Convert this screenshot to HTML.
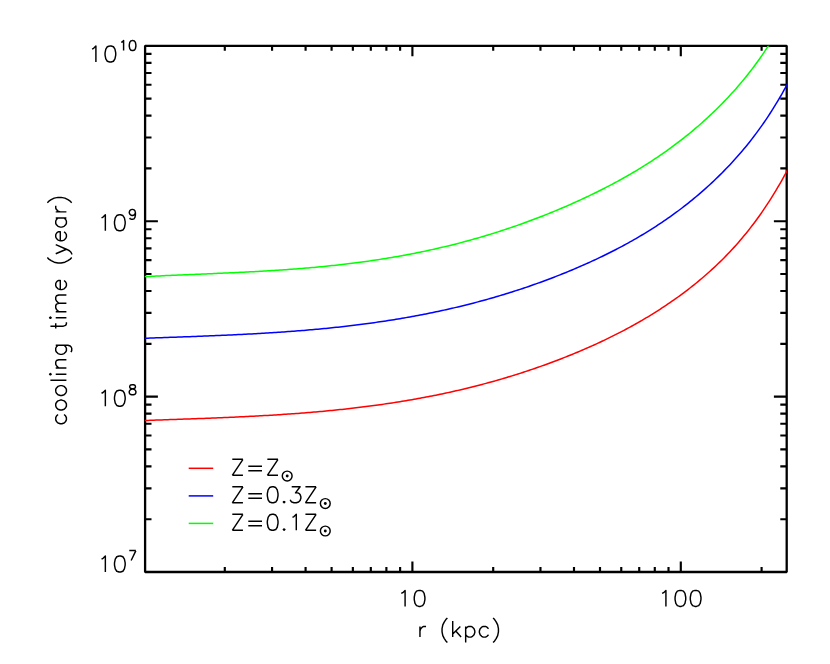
<!DOCTYPE html>
<html><head><meta charset="utf-8"><title>cooling time</title>
<style>html,body{margin:0;padding:0;background:#fff;font-family:"Liberation Sans",sans-serif}svg{display:block}</style></head>
<body>
<svg width="830" height="664" viewBox="0 0 830 664">
<rect width="830" height="664" fill="#fff"/>
<defs><clipPath id="cp"><rect x="144.80" y="45.65" width="642.10" height="526.35"/></clipPath></defs>
<path d="M224.80 572.00 V567.00 M224.80 45.80 V50.80 M272.06 572.00 V567.00 M272.06 45.80 V50.80 M305.59 572.00 V567.00 M305.59 45.80 V50.80 M331.60 572.00 V567.00 M331.60 45.80 V50.80 M352.86 572.00 V567.00 M352.86 45.80 V50.80 M370.82 572.00 V567.00 M370.82 45.80 V50.80 M386.39 572.00 V567.00 M386.39 45.80 V50.80 M400.12 572.00 V567.00 M400.12 45.80 V50.80 M412.40 572.00 V561.50 M412.40 45.80 V56.30 M493.20 572.00 V567.00 M493.20 45.80 V50.80 M540.46 572.00 V567.00 M540.46 45.80 V50.80 M573.99 572.00 V567.00 M573.99 45.80 V50.80 M600.00 572.00 V567.00 M600.00 45.80 V50.80 M621.26 572.00 V567.00 M621.26 45.80 V50.80 M639.22 572.00 V567.00 M639.22 45.80 V50.80 M654.79 572.00 V567.00 M654.79 45.80 V50.80 M668.52 572.00 V567.00 M668.52 45.80 V50.80 M680.80 572.00 V561.50 M680.80 45.80 V56.30 M761.60 572.00 V567.00 M761.60 45.80 V50.80 M145.10 519.20 H151.50 M786.70 519.20 H780.30 M145.10 488.31 H151.50 M786.70 488.31 H780.30 M145.10 466.40 H151.50 M786.70 466.40 H780.30 M145.10 449.40 H151.50 M786.70 449.40 H780.30 M145.10 435.51 H151.50 M786.70 435.51 H780.30 M145.10 423.77 H151.50 M786.70 423.77 H780.30 M145.10 413.60 H151.50 M786.70 413.60 H780.30 M145.10 404.63 H151.50 M786.70 404.63 H780.30 M145.10 396.60 H157.90 M786.70 396.60 H773.90 M145.10 343.80 H151.50 M786.70 343.80 H780.30 M145.10 312.91 H151.50 M786.70 312.91 H780.30 M145.10 291.00 H151.50 M786.70 291.00 H780.30 M145.10 274.00 H151.50 M786.70 274.00 H780.30 M145.10 260.11 H151.50 M786.70 260.11 H780.30 M145.10 248.37 H151.50 M786.70 248.37 H780.30 M145.10 238.20 H151.50 M786.70 238.20 H780.30 M145.10 229.23 H151.50 M786.70 229.23 H780.30 M145.10 221.20 H157.90 M786.70 221.20 H773.90 M145.10 168.40 H151.50 M786.70 168.40 H780.30 M145.10 137.51 H151.50 M786.70 137.51 H780.30 M145.10 115.60 H151.50 M786.70 115.60 H780.30 M145.10 98.60 H151.50 M786.70 98.60 H780.30 M145.10 84.71 H151.50 M786.70 84.71 H780.30 M145.10 72.97 H151.50 M786.70 72.97 H780.30 M145.10 62.80 H151.50 M786.70 62.80 H780.30 M145.10 53.83 H151.50 M786.70 53.83 H780.30" fill="none" stroke="#000" stroke-width="2.15"/>
<rect x="145.10" y="45.80" width="641.60" height="526.20" fill="none" stroke="#000" stroke-width="2.30" stroke-linejoin="bevel"/>
<path clip-path="url(#cp)" d="M140.00 420.68 L142.00 420.60 L144.00 420.53 L146.00 420.46 L148.00 420.39 L150.00 420.31 L152.00 420.24 L154.00 420.17 L156.00 420.10 L158.00 420.03 L160.00 419.96 L162.00 419.89 L164.00 419.82 L166.00 419.75 L168.00 419.68 L170.00 419.61 L172.00 419.54 L174.00 419.47 L176.00 419.40 L178.00 419.33 L180.00 419.26 L182.00 419.19 L184.00 419.12 L186.00 419.05 L188.00 418.97 L190.00 418.90 L192.00 418.83 L194.00 418.76 L196.00 418.68 L198.00 418.61 L200.00 418.54 L202.00 418.46 L204.00 418.38 L206.00 418.31 L208.00 418.23 L210.00 418.15 L212.00 418.07 L214.00 417.99 L216.00 417.91 L218.00 417.83 L220.00 417.75 L222.00 417.67 L224.00 417.58 L226.00 417.50 L228.00 417.41 L230.00 417.32 L232.00 417.23 L234.00 417.14 L236.00 417.05 L238.00 416.96 L240.00 416.86 L242.00 416.77 L244.00 416.67 L246.00 416.57 L248.00 416.47 L250.00 416.37 L252.00 416.27 L254.00 416.16 L256.00 416.06 L258.00 415.95 L260.00 415.84 L262.00 415.73 L264.00 415.61 L266.00 415.50 L268.00 415.38 L270.00 415.26 L272.00 415.14 L274.00 415.02 L276.00 414.89 L278.00 414.77 L280.00 414.64 L282.00 414.51 L284.00 414.37 L286.00 414.24 L288.00 414.10 L290.00 413.96 L292.00 413.82 L294.00 413.67 L296.00 413.52 L298.00 413.38 L300.00 413.22 L302.00 413.07 L304.00 412.91 L306.00 412.75 L308.00 412.59 L310.00 412.42 L312.00 412.26 L314.00 412.09 L316.00 411.91 L318.00 411.74 L320.00 411.56 L322.00 411.38 L324.00 411.19 L326.00 411.01 L328.00 410.82 L330.00 410.62 L332.00 410.43 L334.00 410.23 L336.00 410.02 L338.00 409.82 L340.00 409.61 L342.00 409.40 L344.00 409.18 L346.00 408.96 L348.00 408.74 L350.00 408.52 L352.00 408.29 L354.00 408.05 L356.00 407.82 L358.00 407.58 L360.00 407.34 L362.00 407.09 L364.00 406.84 L366.00 406.59 L368.00 406.33 L370.00 406.07 L372.00 405.80 L374.00 405.53 L376.00 405.26 L378.00 404.99 L380.00 404.71 L382.00 404.42 L384.00 404.13 L386.00 403.84 L388.00 403.55 L390.00 403.25 L392.00 402.94 L394.00 402.63 L396.00 402.32 L398.00 402.00 L400.00 401.68 L402.00 401.36 L404.00 401.03 L406.00 400.69 L408.00 400.35 L410.00 400.01 L412.00 399.66 L414.00 399.31 L416.00 398.96 L418.00 398.60 L420.00 398.23 L422.00 397.86 L424.00 397.48 L426.00 397.11 L428.00 396.72 L430.00 396.33 L432.00 395.94 L434.00 395.54 L436.00 395.14 L438.00 394.73 L440.00 394.31 L442.00 393.90 L444.00 393.47 L446.00 393.04 L448.00 392.61 L450.00 392.17 L452.00 391.73 L454.00 391.28 L456.00 390.83 L458.00 390.37 L460.00 389.90 L462.00 389.43 L464.00 388.96 L466.00 388.48 L468.00 387.99 L470.00 387.50 L472.00 387.00 L474.00 386.50 L476.00 385.99 L478.00 385.48 L480.00 384.96 L482.00 384.43 L484.00 383.90 L486.00 383.37 L488.00 382.83 L490.00 382.28 L492.00 381.73 L494.00 381.17 L496.00 380.60 L498.00 380.03 L500.00 379.45 L502.00 378.87 L504.00 378.28 L506.00 377.69 L508.00 377.08 L510.00 376.48 L512.00 375.86 L514.00 375.24 L516.00 374.62 L518.00 373.99 L520.00 373.35 L522.00 372.70 L524.00 372.05 L526.00 371.40 L528.00 370.73 L530.00 370.06 L532.00 369.39 L534.00 368.70 L536.00 368.01 L538.00 367.32 L540.00 366.61 L542.00 365.90 L544.00 365.19 L546.00 364.47 L548.00 363.74 L550.00 363.00 L552.00 362.26 L554.00 361.51 L556.00 360.75 L558.00 359.99 L560.00 359.22 L562.00 358.44 L564.00 357.65 L566.00 356.86 L568.00 356.06 L570.00 355.26 L572.00 354.44 L574.00 353.62 L576.00 352.79 L578.00 351.95 L580.00 351.11 L582.00 350.26 L584.00 349.40 L586.00 348.53 L588.00 347.65 L590.00 346.77 L592.00 345.87 L594.00 344.97 L596.00 344.06 L598.00 343.14 L600.00 342.21 L602.00 341.27 L604.00 340.32 L606.00 339.37 L608.00 338.40 L610.00 337.42 L612.00 336.44 L614.00 335.44 L616.00 334.44 L618.00 333.42 L620.00 332.39 L622.00 331.35 L624.00 330.30 L626.00 329.24 L628.00 328.17 L630.00 327.09 L632.00 325.99 L634.00 324.88 L636.00 323.76 L638.00 322.63 L640.00 321.48 L642.00 320.33 L644.00 319.16 L646.00 317.97 L648.00 316.77 L650.00 315.56 L652.00 314.33 L654.00 313.09 L656.00 311.84 L658.00 310.57 L660.00 309.28 L662.00 307.98 L664.00 306.67 L666.00 305.33 L668.00 303.98 L670.00 302.62 L672.00 301.24 L674.00 299.84 L676.00 298.42 L678.00 296.99 L680.00 295.53 L682.00 294.06 L684.00 292.57 L686.00 291.06 L688.00 289.54 L690.00 287.99 L692.00 286.42 L694.00 284.82 L696.00 283.21 L698.00 281.57 L700.00 279.91 L702.00 278.23 L704.00 276.52 L706.00 274.79 L708.00 273.03 L710.00 271.24 L712.00 269.43 L714.00 267.59 L716.00 265.71 L718.00 263.81 L720.00 261.88 L722.00 259.91 L724.00 257.91 L726.00 255.88 L728.00 253.81 L730.00 251.70 L732.00 249.56 L734.00 247.38 L736.00 245.16 L738.00 242.90 L740.00 240.59 L742.00 238.25 L744.00 235.85 L746.00 233.42 L748.00 230.93 L750.00 228.40 L752.00 225.81 L754.00 223.18 L756.00 220.49 L758.00 217.75 L760.00 214.95 L762.00 212.09 L764.00 209.18 L766.00 206.20 L768.00 203.16 L770.00 200.06 L772.00 196.89 L774.00 193.66 L776.00 190.35 L778.00 186.98 L780.00 183.53 L782.00 180.01 L784.00 176.41 L786.00 172.74 L788.00 168.98 L790.00 165.14" fill="none" stroke="#ff0000" stroke-width="1.50" stroke-linejoin="round"/>
<path clip-path="url(#cp)" d="M140.00 338.42 L142.00 338.34 L144.00 338.27 L146.00 338.20 L148.00 338.13 L150.00 338.05 L152.00 337.98 L154.00 337.91 L156.00 337.84 L158.00 337.77 L160.00 337.70 L162.00 337.63 L164.00 337.56 L166.00 337.49 L168.00 337.42 L170.00 337.35 L172.00 337.28 L174.00 337.21 L176.00 337.13 L178.00 337.06 L180.00 336.99 L182.00 336.92 L184.00 336.85 L186.00 336.77 L188.00 336.70 L190.00 336.63 L192.00 336.55 L194.00 336.48 L196.00 336.40 L198.00 336.33 L200.00 336.25 L202.00 336.17 L204.00 336.10 L206.00 336.02 L208.00 335.94 L210.00 335.86 L212.00 335.77 L214.00 335.69 L216.00 335.61 L218.00 335.52 L220.00 335.44 L222.00 335.35 L224.00 335.26 L226.00 335.18 L228.00 335.09 L230.00 334.99 L232.00 334.90 L234.00 334.81 L236.00 334.71 L238.00 334.61 L240.00 334.52 L242.00 334.42 L244.00 334.32 L246.00 334.21 L248.00 334.11 L250.00 334.00 L252.00 333.89 L254.00 333.78 L256.00 333.67 L258.00 333.56 L260.00 333.44 L262.00 333.33 L264.00 333.21 L266.00 333.09 L268.00 332.97 L270.00 332.84 L272.00 332.71 L274.00 332.59 L276.00 332.45 L278.00 332.32 L280.00 332.19 L282.00 332.05 L284.00 331.91 L286.00 331.77 L288.00 331.62 L290.00 331.48 L292.00 331.33 L294.00 331.17 L296.00 331.02 L298.00 330.86 L300.00 330.70 L302.00 330.54 L304.00 330.38 L306.00 330.21 L308.00 330.04 L310.00 329.87 L312.00 329.69 L314.00 329.51 L316.00 329.33 L318.00 329.15 L320.00 328.96 L322.00 328.77 L324.00 328.58 L326.00 328.38 L328.00 328.18 L330.00 327.98 L332.00 327.77 L334.00 327.56 L336.00 327.35 L338.00 327.14 L340.00 326.92 L342.00 326.70 L344.00 326.47 L346.00 326.24 L348.00 326.01 L350.00 325.77 L352.00 325.54 L354.00 325.29 L356.00 325.05 L358.00 324.80 L360.00 324.54 L362.00 324.29 L364.00 324.02 L366.00 323.76 L368.00 323.49 L370.00 323.22 L372.00 322.94 L374.00 322.66 L376.00 322.38 L378.00 322.09 L380.00 321.80 L382.00 321.50 L384.00 321.20 L386.00 320.90 L388.00 320.59 L390.00 320.28 L392.00 319.96 L394.00 319.64 L396.00 319.31 L398.00 318.98 L400.00 318.65 L402.00 318.31 L404.00 317.97 L406.00 317.62 L408.00 317.27 L410.00 316.91 L412.00 316.55 L414.00 316.19 L416.00 315.82 L418.00 315.44 L420.00 315.06 L422.00 314.68 L424.00 314.29 L426.00 313.89 L428.00 313.49 L430.00 313.09 L432.00 312.68 L434.00 312.27 L436.00 311.85 L438.00 311.43 L440.00 311.00 L442.00 310.57 L444.00 310.13 L446.00 309.68 L448.00 309.23 L450.00 308.78 L452.00 308.32 L454.00 307.86 L456.00 307.39 L458.00 306.91 L460.00 306.43 L462.00 305.95 L464.00 305.45 L466.00 304.96 L468.00 304.45 L470.00 303.95 L472.00 303.43 L474.00 302.91 L476.00 302.39 L478.00 301.86 L480.00 301.32 L482.00 300.78 L484.00 300.23 L486.00 299.68 L488.00 299.12 L490.00 298.56 L492.00 297.99 L494.00 297.41 L496.00 296.83 L498.00 296.24 L500.00 295.64 L502.00 295.04 L504.00 294.44 L506.00 293.82 L508.00 293.20 L510.00 292.58 L512.00 291.95 L514.00 291.31 L516.00 290.66 L518.00 290.01 L520.00 289.36 L522.00 288.69 L524.00 288.03 L526.00 287.35 L528.00 286.67 L530.00 285.98 L532.00 285.28 L534.00 284.58 L536.00 283.87 L538.00 283.16 L540.00 282.44 L542.00 281.71 L544.00 280.97 L546.00 280.23 L548.00 279.48 L550.00 278.73 L552.00 277.96 L554.00 277.20 L556.00 276.42 L558.00 275.64 L560.00 274.85 L562.00 274.05 L564.00 273.24 L566.00 272.43 L568.00 271.61 L570.00 270.79 L572.00 269.95 L574.00 269.11 L576.00 268.26 L578.00 267.41 L580.00 266.54 L582.00 265.67 L584.00 264.79 L586.00 263.90 L588.00 263.00 L590.00 262.09 L592.00 261.18 L594.00 260.25 L596.00 259.32 L598.00 258.38 L600.00 257.43 L602.00 256.47 L604.00 255.50 L606.00 254.52 L608.00 253.53 L610.00 252.53 L612.00 251.52 L614.00 250.50 L616.00 249.47 L618.00 248.43 L620.00 247.38 L622.00 246.31 L624.00 245.24 L626.00 244.15 L628.00 243.05 L630.00 241.94 L632.00 240.82 L634.00 239.68 L636.00 238.53 L638.00 237.37 L640.00 236.20 L642.00 235.01 L644.00 233.81 L646.00 232.59 L648.00 231.36 L650.00 230.12 L652.00 228.86 L654.00 227.58 L656.00 226.29 L658.00 224.99 L660.00 223.66 L662.00 222.33 L664.00 220.97 L666.00 219.60 L668.00 218.21 L670.00 216.80 L672.00 215.38 L674.00 213.94 L676.00 212.48 L678.00 211.00 L680.00 209.50 L682.00 207.98 L684.00 206.44 L686.00 204.88 L688.00 203.30 L690.00 201.70 L692.00 200.08 L694.00 198.43 L696.00 196.77 L698.00 195.08 L700.00 193.37 L702.00 191.64 L704.00 189.88 L706.00 188.10 L708.00 186.29 L710.00 184.46 L712.00 182.60 L714.00 180.72 L716.00 178.81 L718.00 176.87 L720.00 174.91 L722.00 172.92 L724.00 170.89 L726.00 168.84 L728.00 166.76 L730.00 164.64 L732.00 162.49 L734.00 160.30 L736.00 158.08 L738.00 155.82 L740.00 153.53 L742.00 151.19 L744.00 148.82 L746.00 146.40 L748.00 143.94 L750.00 141.43 L752.00 138.88 L754.00 136.28 L756.00 133.63 L758.00 130.92 L760.00 128.17 L762.00 125.36 L764.00 122.49 L766.00 119.56 L768.00 116.57 L770.00 113.52 L772.00 110.41 L774.00 107.22 L776.00 103.97 L778.00 100.65 L780.00 97.25 L782.00 93.78 L784.00 90.22 L786.00 86.59 L788.00 82.87 L790.00 79.07" fill="none" stroke="#0000ff" stroke-width="1.50" stroke-linejoin="round"/>
<path clip-path="url(#cp)" d="M140.00 276.91 L142.00 276.80 L144.00 276.69 L146.00 276.59 L148.00 276.48 L150.00 276.38 L152.00 276.28 L154.00 276.18 L156.00 276.08 L158.00 275.98 L160.00 275.89 L162.00 275.79 L164.00 275.70 L166.00 275.60 L168.00 275.51 L170.00 275.42 L172.00 275.33 L174.00 275.24 L176.00 275.16 L178.00 275.07 L180.00 274.98 L182.00 274.90 L184.00 274.81 L186.00 274.72 L188.00 274.64 L190.00 274.56 L192.00 274.47 L194.00 274.39 L196.00 274.30 L198.00 274.22 L200.00 274.13 L202.00 274.05 L204.00 273.97 L206.00 273.88 L208.00 273.80 L210.00 273.71 L212.00 273.63 L214.00 273.54 L216.00 273.45 L218.00 273.37 L220.00 273.28 L222.00 273.19 L224.00 273.10 L226.00 273.01 L228.00 272.92 L230.00 272.83 L232.00 272.74 L234.00 272.64 L236.00 272.55 L238.00 272.45 L240.00 272.35 L242.00 272.26 L244.00 272.16 L246.00 272.05 L248.00 271.95 L250.00 271.85 L252.00 271.74 L254.00 271.63 L256.00 271.53 L258.00 271.41 L260.00 271.30 L262.00 271.19 L264.00 271.07 L266.00 270.95 L268.00 270.83 L270.00 270.71 L272.00 270.59 L274.00 270.46 L276.00 270.33 L278.00 270.20 L280.00 270.07 L282.00 269.93 L284.00 269.79 L286.00 269.65 L288.00 269.51 L290.00 269.36 L292.00 269.21 L294.00 269.06 L296.00 268.91 L298.00 268.75 L300.00 268.59 L302.00 268.43 L304.00 268.27 L306.00 268.10 L308.00 267.93 L310.00 267.75 L312.00 267.58 L314.00 267.40 L316.00 267.21 L318.00 267.03 L320.00 266.84 L322.00 266.64 L324.00 266.45 L326.00 266.25 L328.00 266.04 L330.00 265.84 L332.00 265.62 L334.00 265.41 L336.00 265.19 L338.00 264.97 L340.00 264.74 L342.00 264.52 L344.00 264.28 L346.00 264.05 L348.00 263.80 L350.00 263.56 L352.00 263.31 L354.00 263.06 L356.00 262.80 L358.00 262.54 L360.00 262.27 L362.00 262.01 L364.00 261.73 L366.00 261.45 L368.00 261.17 L370.00 260.88 L372.00 260.59 L374.00 260.30 L376.00 260.00 L378.00 259.69 L380.00 259.38 L382.00 259.07 L384.00 258.75 L386.00 258.43 L388.00 258.10 L390.00 257.77 L392.00 257.43 L394.00 257.09 L396.00 256.74 L398.00 256.39 L400.00 256.03 L402.00 255.67 L404.00 255.31 L406.00 254.93 L408.00 254.56 L410.00 254.18 L412.00 253.79 L414.00 253.40 L416.00 253.00 L418.00 252.60 L420.00 252.19 L422.00 251.78 L424.00 251.36 L426.00 250.93 L428.00 250.50 L430.00 250.07 L432.00 249.63 L434.00 249.18 L436.00 248.73 L438.00 248.28 L440.00 247.81 L442.00 247.35 L444.00 246.87 L446.00 246.39 L448.00 245.91 L450.00 245.42 L452.00 244.92 L454.00 244.42 L456.00 243.91 L458.00 243.40 L460.00 242.88 L462.00 242.35 L464.00 241.82 L466.00 241.28 L468.00 240.74 L470.00 240.19 L472.00 239.64 L474.00 239.08 L476.00 238.51 L478.00 237.93 L480.00 237.35 L482.00 236.77 L484.00 236.18 L486.00 235.58 L488.00 234.97 L490.00 234.36 L492.00 233.75 L494.00 233.12 L496.00 232.49 L498.00 231.86 L500.00 231.22 L502.00 230.57 L504.00 229.91 L506.00 229.25 L508.00 228.58 L510.00 227.91 L512.00 227.23 L514.00 226.54 L516.00 225.85 L518.00 225.15 L520.00 224.44 L522.00 223.73 L524.00 223.01 L526.00 222.28 L528.00 221.55 L530.00 220.81 L532.00 220.06 L534.00 219.31 L536.00 218.55 L538.00 217.78 L540.00 217.01 L542.00 216.23 L544.00 215.44 L546.00 214.65 L548.00 213.85 L550.00 213.04 L552.00 212.23 L554.00 211.41 L556.00 210.58 L558.00 209.75 L560.00 208.90 L562.00 208.06 L564.00 207.20 L566.00 206.34 L568.00 205.47 L570.00 204.59 L572.00 203.70 L574.00 202.81 L576.00 201.91 L578.00 201.01 L580.00 200.09 L582.00 199.17 L584.00 198.24 L586.00 197.30 L588.00 196.35 L590.00 195.40 L592.00 194.43 L594.00 193.46 L596.00 192.48 L598.00 191.49 L600.00 190.49 L602.00 189.48 L604.00 188.47 L606.00 187.44 L608.00 186.40 L610.00 185.36 L612.00 184.30 L614.00 183.24 L616.00 182.16 L618.00 181.08 L620.00 179.98 L622.00 178.87 L624.00 177.75 L626.00 176.62 L628.00 175.48 L630.00 174.33 L632.00 173.16 L634.00 171.98 L636.00 170.79 L638.00 169.59 L640.00 168.37 L642.00 167.14 L644.00 165.90 L646.00 164.65 L648.00 163.38 L650.00 162.09 L652.00 160.79 L654.00 159.48 L656.00 158.15 L658.00 156.81 L660.00 155.45 L662.00 154.07 L664.00 152.68 L666.00 151.27 L668.00 149.85 L670.00 148.41 L672.00 146.95 L674.00 145.47 L676.00 143.97 L678.00 142.46 L680.00 140.92 L682.00 139.37 L684.00 137.80 L686.00 136.21 L688.00 134.59 L690.00 132.96 L692.00 131.31 L694.00 129.63 L696.00 127.93 L698.00 126.21 L700.00 124.47 L702.00 122.71 L704.00 120.92 L706.00 119.10 L708.00 117.27 L710.00 115.41 L712.00 113.52 L714.00 111.61 L716.00 109.67 L718.00 107.70 L720.00 105.70 L722.00 103.68 L724.00 101.63 L726.00 99.54 L728.00 97.43 L730.00 95.28 L732.00 93.10 L734.00 90.88 L736.00 88.63 L738.00 86.33 L740.00 84.00 L742.00 81.63 L744.00 79.22 L746.00 76.76 L748.00 74.26 L750.00 71.71 L752.00 69.12 L754.00 66.47 L756.00 63.77 L758.00 61.02 L760.00 58.21 L762.00 55.34 L764.00 52.41 L766.00 49.43 L768.00 46.37 L770.00 43.25 L772.00 40.06 L774.00 36.80 L776.00 33.47 L778.00 30.06 L780.00 26.57 L782.00 22.99 L784.00 19.34 L786.00 15.60 L788.00 11.77 L790.00 7.84" fill="none" stroke="#00ff00" stroke-width="1.50" stroke-linejoin="round"/>
<path d="M188.7 468.30 H213.2" stroke="#ff0000" stroke-width="1.50" fill="none"/>
<path d="M188.7 495.90 H213.2" stroke="#0000ff" stroke-width="1.50" fill="none"/>
<path d="M188.7 523.40 H213.2" stroke="#00ff00" stroke-width="1.50" fill="none"/>
<path d="M92.09 49.05 L93.62 48.28 L95.90 46.00 L95.90 62.00 M109.62 46.00 L107.33 46.76 L105.81 49.05 L105.05 52.86 L105.05 55.14 L105.81 58.95 L107.33 61.24 L109.62 62.00 L111.14 62.00 L113.43 61.24 L114.95 58.95 L115.72 55.14 L115.72 52.86 L114.95 49.05 L113.43 46.76 L111.14 46.00 L109.62 46.00 M121.24 42.47 L122.18 42.00 L123.60 40.58 L123.60 50.50 M132.10 40.58 L130.69 41.05 L129.74 42.47 L129.27 44.83 L129.27 46.25 L129.74 48.61 L130.69 50.03 L132.10 50.50 L133.05 50.50 L134.47 50.03 L135.41 48.61 L135.88 46.25 L135.88 44.83 L135.41 42.47 L134.47 41.05 L133.05 40.58 L132.10 40.58 M101.54 217.85 L103.07 217.08 L105.35 214.80 L105.35 230.80 M119.07 214.80 L116.78 215.56 L115.26 217.85 L114.50 221.66 L114.50 223.94 L115.26 227.75 L116.78 230.04 L119.07 230.80 L120.59 230.80 L122.88 230.04 L124.40 227.75 L125.17 223.94 L125.17 221.66 L124.40 217.85 L122.88 215.56 L120.59 214.80 L119.07 214.80 M135.41 212.69 L134.94 214.10 L133.99 215.05 L132.58 215.52 L132.10 215.52 L130.69 215.05 L129.74 214.10 L129.27 212.69 L129.27 212.21 L129.74 210.80 L130.69 209.85 L132.10 209.38 L132.58 209.38 L133.99 209.85 L134.94 210.80 L135.41 212.69 L135.41 215.05 L134.94 217.41 L133.99 218.83 L132.58 219.30 L131.63 219.30 L130.21 218.83 L129.74 217.88 M101.54 393.25 L103.07 392.48 L105.35 390.20 L105.35 406.20 M119.07 390.20 L116.78 390.96 L115.26 393.25 L114.50 397.06 L114.50 399.34 L115.26 403.15 L116.78 405.44 L119.07 406.20 L120.59 406.20 L122.88 405.44 L124.40 403.15 L125.17 399.34 L125.17 397.06 L124.40 393.25 L122.88 390.96 L120.59 390.20 L119.07 390.20 M131.63 384.78 L130.21 385.25 L129.74 386.20 L129.74 387.14 L130.21 388.09 L131.16 388.56 L133.05 389.03 L134.47 389.50 L135.41 390.45 L135.88 391.39 L135.88 392.81 L135.41 393.76 L134.94 394.23 L133.52 394.70 L131.63 394.70 L130.21 394.23 L129.74 393.76 L129.27 392.81 L129.27 391.39 L129.74 390.45 L130.69 389.50 L132.10 389.03 L133.99 388.56 L134.94 388.09 L135.41 387.14 L135.41 386.20 L134.94 385.25 L133.52 384.78 L131.63 384.78 M101.54 559.05 L103.07 558.28 L105.35 556.00 L105.35 572.00 M119.07 556.00 L116.78 556.76 L115.26 559.05 L114.50 562.86 L114.50 565.14 L115.26 568.95 L116.78 571.24 L119.07 572.00 L120.59 572.00 L122.88 571.24 L124.40 568.95 L125.17 565.14 L125.17 562.86 L124.40 559.05 L122.88 556.76 L120.59 556.00 L119.07 556.00 M135.88 550.58 L131.16 560.50 M129.27 550.58 L135.88 550.58 M401.28 593.45 L402.81 592.68 L405.09 590.40 L405.09 606.40 M418.81 590.40 L416.52 591.16 L415.00 593.45 L414.24 597.26 L414.24 599.54 L415.00 603.35 L416.52 605.64 L418.81 606.40 L420.33 606.40 L422.62 605.64 L424.14 603.35 L424.90 599.54 L424.90 597.26 L424.14 593.45 L422.62 591.16 L420.33 590.40 L418.81 590.40 M662.11 593.45 L663.64 592.68 L665.92 590.40 L665.92 606.40 M679.64 590.40 L677.35 591.16 L675.83 593.45 L675.07 597.26 L675.07 599.54 L675.83 603.35 L677.35 605.64 L679.64 606.40 L681.16 606.40 L683.45 605.64 L684.97 603.35 L685.73 599.54 L685.73 597.26 L684.97 593.45 L683.45 591.16 L681.16 590.40 L679.64 590.40 M694.88 590.40 L692.59 591.16 L691.07 593.45 L690.31 597.26 L690.31 599.54 L691.07 603.35 L692.59 605.64 L694.88 606.40 L696.40 606.40 L698.69 605.64 L700.21 603.35 L700.97 599.54 L700.97 597.26 L700.21 593.45 L698.69 591.16 L696.40 590.40 L694.88 590.40 M419.95 626.43 L419.95 637.10 M419.95 631.00 L420.71 628.72 L422.23 627.19 L423.76 626.43 L426.04 626.43 M447.38 618.05 L445.86 619.57 L444.33 621.86 L442.81 624.91 L442.05 628.72 L442.05 631.77 L442.81 635.58 L444.33 638.62 L445.86 640.91 L447.38 642.43 M452.71 621.10 L452.71 637.10 M460.33 626.43 L452.71 634.05 M455.76 631.00 L461.10 637.10 M465.67 626.43 L465.67 642.43 M465.67 628.72 L467.19 627.19 L468.72 626.43 L471.00 626.43 L472.53 627.19 L474.05 628.72 L474.81 631.00 L474.81 632.53 L474.05 634.81 L472.53 636.34 L471.00 637.10 L468.72 637.10 L467.19 636.34 L465.67 634.81 M488.53 628.72 L487.00 627.19 L485.48 626.43 L483.19 626.43 L481.67 627.19 L480.15 628.72 L479.38 631.00 L479.38 632.53 L480.15 634.81 L481.67 636.34 L483.19 637.10 L485.48 637.10 L487.00 636.34 L488.53 634.81 M493.10 618.05 L494.62 619.57 L496.15 621.86 L497.67 624.91 L498.43 628.72 L498.43 631.77 L497.67 635.58 L496.15 638.62 L494.62 640.91 L493.10 642.43 M58.02 414.57 L56.49 416.09 L55.73 417.62 L55.73 419.90 L56.49 421.43 L58.02 422.95 L60.30 423.71 L61.83 423.71 L64.11 422.95 L65.64 421.43 L66.40 419.90 L66.40 417.62 L65.64 416.09 L64.11 414.57 M55.73 406.19 L56.49 407.71 L58.02 409.24 L60.30 410.00 L61.83 410.00 L64.11 409.24 L65.64 407.71 L66.40 406.19 L66.40 403.90 L65.64 402.38 L64.11 400.85 L61.83 400.09 L60.30 400.09 L58.02 400.85 L56.49 402.38 L55.73 403.90 L55.73 406.19 M55.73 391.71 L56.49 393.23 L58.02 394.76 L60.30 395.52 L61.83 395.52 L64.11 394.76 L65.64 393.23 L66.40 391.71 L66.40 389.42 L65.64 387.90 L64.11 386.38 L61.83 385.61 L60.30 385.61 L58.02 386.38 L56.49 387.90 L55.73 389.42 L55.73 391.71 M50.40 380.28 L66.40 380.28 M50.40 374.95 L51.16 374.18 L50.40 373.42 L49.64 374.18 L50.40 374.95 M55.73 374.18 L66.40 374.18 M55.73 368.09 L66.40 368.09 M58.78 368.09 L56.49 365.80 L55.73 364.28 L55.73 361.99 L56.49 360.47 L58.78 359.71 L66.40 359.71 M55.73 345.23 L67.92 345.23 L70.21 345.99 L70.97 346.75 L71.73 348.28 L71.73 350.56 L70.97 352.09 M58.02 345.23 L56.49 346.75 L55.73 348.28 L55.73 350.56 L56.49 352.09 L58.02 353.61 L60.30 354.37 L61.83 354.37 L64.11 353.61 L65.64 352.09 L66.40 350.56 L66.40 348.28 L65.64 346.75 L64.11 345.23 M50.40 326.18 L63.35 326.18 L65.64 325.42 L66.40 323.89 L66.40 322.37 M55.73 328.46 L55.73 323.13 M50.40 318.56 L51.16 317.80 L50.40 317.03 L49.64 317.80 L50.40 318.56 M55.73 317.80 L66.40 317.80 M55.73 311.70 L66.40 311.70 M58.78 311.70 L56.49 309.41 L55.73 307.89 L55.73 305.60 L56.49 304.08 L58.78 303.32 L66.40 303.32 M58.78 303.32 L56.49 301.03 L55.73 299.51 L55.73 297.22 L56.49 295.70 L58.78 294.94 L66.40 294.94 M60.30 289.60 L60.30 280.46 L58.78 280.46 L57.26 281.22 L56.49 281.98 L55.73 283.51 L55.73 285.79 L56.49 287.32 L58.02 288.84 L60.30 289.60 L61.83 289.60 L64.11 288.84 L65.64 287.32 L66.40 285.79 L66.40 283.51 L65.64 281.98 L64.11 280.46 M47.35 257.60 L48.87 259.12 L51.16 260.65 L54.21 262.17 L58.02 262.93 L61.07 262.93 L64.88 262.17 L67.92 260.65 L70.21 259.12 L71.73 257.60 M55.73 253.79 L66.40 249.22 M55.73 244.64 L66.40 249.22 L69.45 250.74 L70.97 252.26 L71.73 253.79 L71.73 254.55 M60.30 240.83 L60.30 231.69 L58.78 231.69 L57.26 232.45 L56.49 233.21 L55.73 234.74 L55.73 237.02 L56.49 238.55 L58.02 240.07 L60.30 240.83 L61.83 240.83 L64.11 240.07 L65.64 238.55 L66.40 237.02 L66.40 234.74 L65.64 233.21 L64.11 231.69 M55.73 217.97 L66.40 217.97 M58.02 217.97 L56.49 219.50 L55.73 221.02 L55.73 223.31 L56.49 224.83 L58.02 226.36 L60.30 227.12 L61.83 227.12 L64.11 226.36 L65.64 224.83 L66.40 223.31 L66.40 221.02 L65.64 219.50 L64.11 217.97 M55.73 211.88 L66.40 211.88 M60.30 211.88 L58.02 211.12 L56.49 209.59 L55.73 208.07 L55.73 205.78 M47.35 202.73 L48.87 201.21 L51.16 199.69 L54.21 198.16 L58.02 197.40 L61.07 197.40 L64.88 198.16 L67.92 199.69 L70.21 201.21 L71.73 202.73 M242.95 459.30 L232.29 475.30 M232.29 459.30 L242.95 459.30 M232.29 475.30 L242.95 475.30 M248.29 466.16 L262.00 466.16 M248.29 470.73 L262.00 470.73 M278.01 459.30 L267.34 475.30 M267.34 459.30 L278.01 459.30 M267.34 475.30 L278.01 475.30 M242.95 486.80 L232.29 502.80 M232.29 486.80 L242.95 486.80 M232.29 502.80 L242.95 502.80 M248.29 493.66 L262.00 493.66 M248.29 498.23 L262.00 498.23 M271.91 486.80 L269.62 487.56 L268.10 489.85 L267.34 493.66 L267.34 495.94 L268.10 499.75 L269.62 502.04 L271.91 502.80 L273.43 502.80 L275.72 502.04 L277.24 499.75 L278.01 495.94 L278.01 493.66 L277.24 489.85 L275.72 487.56 L273.43 486.80 L271.91 486.80 M284.10 501.28 L283.34 502.04 L284.10 502.80 L284.86 502.04 L284.10 501.28 M291.72 486.80 L300.10 486.80 L295.53 492.89 L297.82 492.89 L299.34 493.66 L300.10 494.42 L300.87 496.70 L300.87 498.23 L300.10 500.51 L298.58 502.04 L296.29 502.80 L294.01 502.80 L291.72 502.04 L290.96 501.28 L290.20 499.75 M316.11 486.80 L305.44 502.80 M305.44 486.80 L316.11 486.80 M305.44 502.80 L316.11 502.80 M242.95 514.30 L232.29 530.30 M232.29 514.30 L242.95 514.30 M232.29 530.30 L242.95 530.30 M248.29 521.16 L262.00 521.16 M248.29 525.73 L262.00 525.73 M271.91 514.30 L269.62 515.06 L268.10 517.35 L267.34 521.16 L267.34 523.44 L268.10 527.25 L269.62 529.54 L271.91 530.30 L273.43 530.30 L275.72 529.54 L277.24 527.25 L278.01 523.44 L278.01 521.16 L277.24 517.35 L275.72 515.06 L273.43 514.30 L271.91 514.30 M284.10 528.78 L283.34 529.54 L284.10 530.30 L284.86 529.54 L284.10 528.78 M292.48 517.35 L294.01 516.58 L296.29 514.30 L296.29 530.30 M316.11 514.30 L305.44 530.30 M305.44 514.30 L316.11 514.30 M305.44 530.30 L316.11 530.30" fill="none" stroke="#000" stroke-width="1.45" stroke-linejoin="round" stroke-linecap="butt"/>
<circle cx="287.19" cy="476.00" r="4.9" fill="none" stroke="#000" stroke-width="1.45"/><circle cx="287.19" cy="476.00" r="1.45" fill="#000"/>
<circle cx="325.29" cy="503.50" r="4.9" fill="none" stroke="#000" stroke-width="1.45"/><circle cx="325.29" cy="503.50" r="1.45" fill="#000"/>
<circle cx="325.29" cy="531.00" r="4.9" fill="none" stroke="#000" stroke-width="1.45"/><circle cx="325.29" cy="531.00" r="1.45" fill="#000"/>
</svg>
</body></html>
